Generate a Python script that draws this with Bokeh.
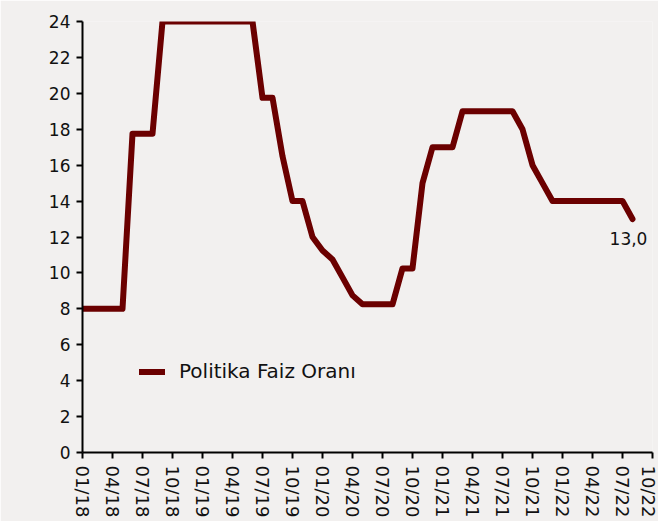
from bokeh.plotting import figure
from bokeh.models import FixedTicker, Range1d, Label, Legend, LegendItem, ColumnDataSource
from bokeh.embed import file_html
from bokeh.resources import INLINE

# Monthly data, 01/2018 .. 08/2022 (index 0 = 01/18)
months = ["01/18", "02/18", "03/18", "04/18", "05/18", "06/18", "07/18", "08/18", "09/18", "10/18", "11/18", "12/18",
          "01/19", "02/19", "03/19", "04/19", "05/19", "06/19", "07/19", "08/19", "09/19", "10/19", "11/19", "12/19",
          "01/20", "02/20", "03/20", "04/20", "05/20", "06/20", "07/20", "08/20", "09/20", "10/20", "11/20", "12/20",
          "01/21", "02/21", "03/21", "04/21", "05/21", "06/21", "07/21", "08/21", "09/21", "10/21", "11/21", "12/21",
          "01/22", "02/22", "03/22", "04/22", "05/22", "06/22", "07/22", "08/22"]
policy_rate = [8.0, 8.0, 8.0, 8.0, 8.0, 17.75, 17.75, 17.75, 24.0, 24.0, 24.0, 24.0,
               24.0, 24.0, 24.0, 24.0, 24.0, 24.0, 19.75, 19.75, 16.5, 14.0, 14.0, 12.0,
               11.25, 10.75, 9.75, 8.75, 8.25, 8.25, 8.25, 8.25, 10.25, 10.25, 15.0, 17.0,
               17.0, 17.0, 19.0, 19.0, 19.0, 19.0, 19.0, 19.0, 18.0, 16.0, 15.0, 14.0,
               14.0, 14.0, 14.0, 14.0, 14.0, 14.0, 14.0, 13.0]
tick_labels = ["01/18", "04/18", "07/18", "10/18", "01/19", "04/19", "07/19", "10/19", "01/20", "04/20",
               "07/20", "10/20", "01/21", "04/21", "07/21", "10/21", "01/22", "04/22", "07/22", "10/22"]
y_ticks = [0, 2, 4, 6, 8, 10, 12, 14, 16, 18, 20, 22, 24]
series_name = "Politika Faiz Oranı"
last_label = "13,0"

tick_pos = [i * 3 for i in range(len(tick_labels))]
x_idx = list(range(len(policy_rate)))

FONT = "DejaVu Sans"
BG = "#F2F0EF"
LINE = "#6B0000"
FS = "17px"

p = figure(width=658, height=521, output_backend="svg", toolbar_location=None,
           x_range=Range1d(0, tick_pos[-1]), y_range=Range1d(0, 24),
           min_border_left=82, min_border_top=21, min_border_bottom=69, min_border_right=6)
p.background_fill_color = BG
p.border_fill_color = BG
p.outline_line_color = None
p.xgrid.visible = False
p.ygrid.visible = False

src = ColumnDataSource(dict(x=x_idx, y=policy_rate))
r = p.line("x", "y", source=src, line_color=LINE, line_width=6, line_join="round", line_cap="round")

p.xaxis.ticker = FixedTicker(ticks=tick_pos)
p.xaxis.major_label_overrides = {t: l for t, l in zip(tick_pos, tick_labels)}
p.xaxis.major_label_orientation = "vertical"
p.yaxis.ticker = FixedTicker(ticks=y_ticks)

for ax in (p.xaxis[0], p.yaxis[0]):
    ax.axis_line_color = "black"
    ax.axis_line_width = 2
    ax.major_tick_line_color = "black"
    ax.major_tick_line_width = 2
    ax.major_tick_in = 0
    ax.major_tick_out = 6
    ax.minor_tick_line_color = None
    ax.major_label_text_font = FONT
    ax.major_label_text_font_size = FS
    ax.major_label_text_color = "#111111"
p.xaxis.major_label_text_font_size = "18px"
p.xaxis.major_label_standoff = 7
p.yaxis.major_label_standoff = 6

lbl = Label(x=x_idx[-1], y=policy_rate[-1], text=last_label, x_offset=-4, y_offset=-13,
            text_align="center", text_baseline="top", text_font=FONT, text_font_size=FS,
            text_color="#111111")
p.add_layout(lbl)

legend = Legend(items=[LegendItem(label=series_name, renderers=[r])], location=(57, 69),
                background_fill_alpha=0, border_line_color=None, glyph_width=26, glyph_height=17,
                label_text_font=FONT, label_text_font_size="20px", label_text_color="#111111",
                padding=4, spacing=0, label_standoff=14)
p.add_layout(legend)

open("out.html", "w").write(file_html(p, INLINE))
